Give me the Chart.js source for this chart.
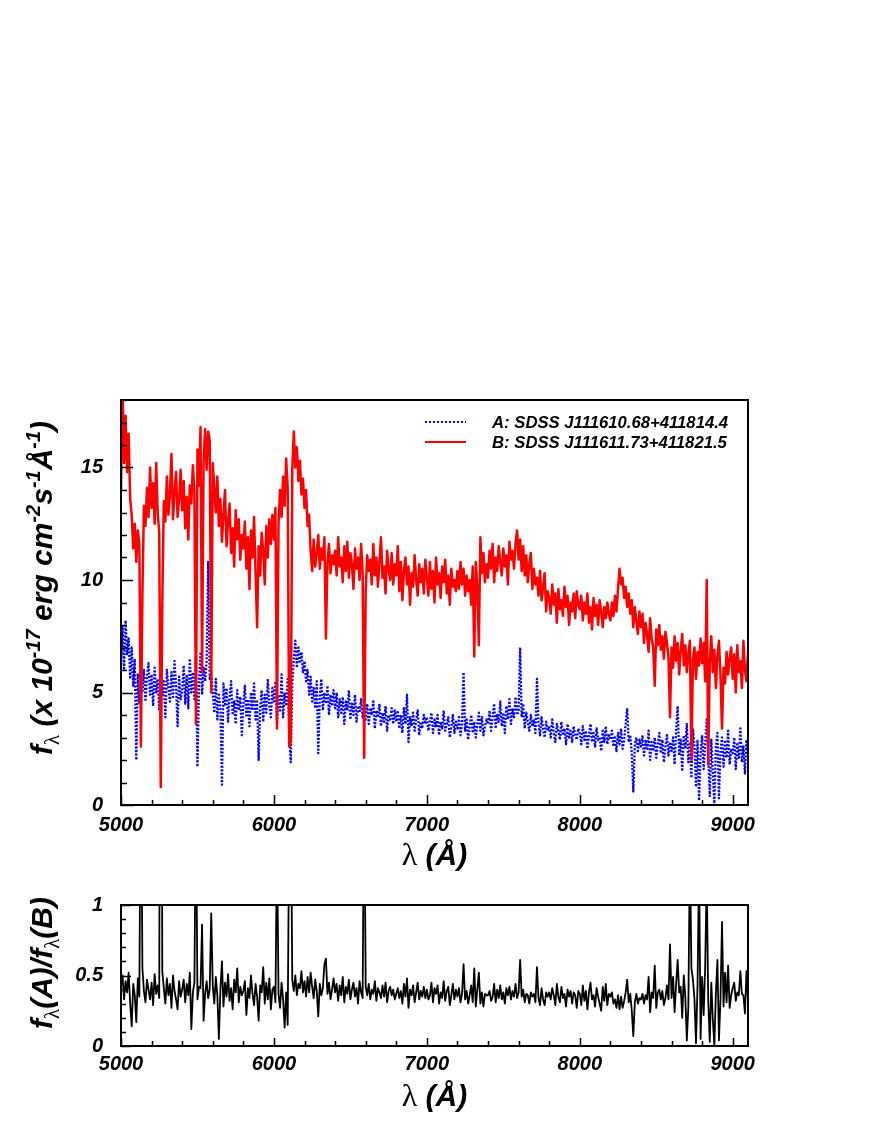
<!DOCTYPE html>
<html>
<head>
<meta charset="utf-8">
<script src="https://cdn.jsdelivr.net/npm/chart.js@4.4.1/dist/chart.umd.min.js"></script>
<style>
  html, body { margin: 0; padding: 0; background: #fff; }
  body { width: 872px; height: 1128px; position: relative; overflow: hidden; }
  canvas { position: absolute; left: 0; }
  #spec { top: 370px; }
  #ratio { top: 875px; }
</style>
</head>
<body>
<canvas id="spec" width="872" height="510"></canvas>
<canvas id="ratio" width="872" height="253"></canvas>
<script>
// spectra sampled every 10 A from 5000 A
const WAVE_START = 5000;
const WAVE_STEP = 10;

// A: SDSS J111610.68+411814.4 (x 1e-17 erg/cm2/s/A)
const fluxA = [
  6.3, 7.9, 6.0, 8.2, 6.7, 7.4, 5.6, 7.0, 5.3, 6.5, 2.0, 5.8, 4.5, 6.2, 5.0, 6.0, 4.6, 5.7, 6.3, 4.9,
  5.8, 4.4, 6.1, 5.0, 5.6, 4.2, 6.3, 4.9, 5.5, 3.9, 6.0, 5.2, 4.6, 5.9, 4.8, 6.4, 5.3, 3.5, 5.7, 4.7,
  5.1, 6.2, 4.5, 5.8, 4.3, 6.5, 5.0, 5.9, 4.7, 6.6, 1.7, 5.4, 6.8, 4.9, 6.1, 5.5, 6.4, 10.8, 5.6, 5.9,
  5.0, 4.1, 5.6, 3.8, 4.9, 4.3, 0.9, 5.4, 4.4, 5.2, 3.7, 4.8, 5.5, 4.0, 4.6, 3.6, 5.1, 4.2, 4.8, 3.1,
  4.5, 5.3, 3.9, 4.7, 3.5, 5.0, 4.2, 5.4, 3.8, 4.6, 2.0, 4.3, 5.1, 3.7, 4.9, 4.1, 5.6, 4.4, 3.9, 5.2,
  4.6, 5.5, 3.6, 4.9, 4.2, 5.8, 3.9, 5.0, 4.4, 5.6, 3.2, 1.9, 5.4, 6.5, 7.3, 6.1, 7.0, 6.3, 6.8, 5.9,
  6.4, 5.5, 6.0, 4.9, 5.7, 4.6, 5.2, 4.3, 5.5, 2.3, 4.8, 5.6, 4.2, 5.0, 4.5, 5.3, 4.0, 4.9, 4.4, 5.1,
  4.3, 5.0, 3.9, 4.7, 4.1, 4.8, 3.6, 4.6, 4.2, 5.1, 3.8, 4.5, 4.0, 4.9, 3.7, 4.4, 4.1, 4.7, 3.9, 4.3,
  3.8, 4.5, 3.6, 4.3, 4.0, 4.6, 3.4, 4.2, 3.9, 4.5, 3.5, 4.1, 3.7, 4.4, 3.3, 4.0, 3.8, 4.3, 3.6, 4.2,
  3.7, 4.2, 3.4, 4.0, 3.2, 4.3, 3.6, 4.9, 2.8, 3.9, 3.5, 4.1, 3.3, 3.8, 4.2, 3.1, 3.7, 3.4, 4.0, 3.6,
  3.9, 3.3, 3.7, 4.1, 3.2, 3.8, 3.5, 4.0, 3.1, 3.7, 3.4, 4.2, 3.3, 3.6, 3.9, 3.0, 3.5, 4.0, 3.2, 3.7,
  3.4, 3.9, 3.1, 3.6, 5.9, 3.3, 3.8, 2.9, 3.5, 4.0, 3.2, 3.7, 3.0, 3.6, 4.1, 3.3, 3.9, 3.1, 3.5, 3.8,
  3.6, 4.2, 3.3, 3.9, 4.5, 3.4, 4.0, 3.7, 4.6, 3.5, 4.1, 3.2, 4.4, 3.8, 4.7, 3.6, 4.3, 3.9, 4.8, 4.0,
  4.2, 7.0, 3.9, 4.5, 3.4, 4.1, 3.7, 3.3, 4.0, 3.5, 3.8, 3.2, 5.6, 3.6, 3.1, 3.9, 3.4, 3.0, 3.7, 3.3,
  3.5, 3.0, 3.8, 3.2, 2.8, 3.6, 3.3, 2.9, 3.7, 3.1, 3.4, 2.7, 3.6, 3.0, 3.3, 2.8, 3.5, 3.1, 2.9, 3.4,
  3.2, 2.7, 3.5, 2.9, 3.3, 2.5, 3.1, 3.6, 2.8, 3.2, 2.6, 3.4, 2.9, 3.0, 2.4, 3.3, 2.8, 3.5, 2.7, 3.1,
  2.9, 3.3, 2.6, 3.0, 2.4, 3.2, 2.7, 3.4, 2.5, 2.9, 3.6, 4.3, 2.8, 3.1, 2.3, 0.6, 2.7, 3.0, 2.4, 2.9,
  2.6, 3.1, 2.2, 2.9, 2.5, 3.3, 2.0, 2.8, 2.4, 3.0, 2.1, 2.7, 3.2, 2.3, 2.9, 1.9, 2.6, 3.1, 2.2, 2.8,
  2.4, 3.0, 1.8, 3.3, 4.4, 2.2, 2.9, 1.5, 3.1, 2.5, 3.6, 1.9, 2.8, 1.2, 3.4, 2.6, 0.8, 2.9, 0.2, 2.3,
  3.1, 1.6, 2.7, 3.8, 2.2, 0.4, 2.9, 1.4, 0.0, 2.6, 3.2, 0.3, 2.4, 3.0, 1.7, 2.8, 2.1, 3.3, 1.8, 2.5,
  2.3, 3.0, 1.6, 2.7, 2.1, 3.4, 1.9, 2.6, 1.4, 2.9, 2.2
];

// B: SDSS J111611.73+411821.5
const fluxB = [
  14.0, 18.6, 15.2, 17.3, 14.8, 16.5, 13.6, 12.9, 11.4, 12.5, 10.8, 12.2, 11.6, 2.6, 9.4, 13.3, 12.4, 14.1, 12.8, 15.0,
  13.2, 14.3, 12.5, 15.2, 13.0, 12.1, 0.8, 9.0, 13.5, 12.6, 14.6, 12.9, 13.8, 15.6, 12.7, 13.9, 14.8, 12.8, 13.6, 14.9,
  13.1, 14.4, 12.3, 13.7, 11.8, 14.2, 13.4, 15.1, 13.9, 3.6, 15.8, 14.2, 16.8, 5.9, 15.3, 16.7, 14.9, 16.6, 16.2, 5.0,
  15.2, 14.1, 13.0, 14.6, 12.4, 13.6, 11.7, 12.9, 14.0, 11.5, 12.6, 13.4, 11.2, 12.3, 10.6, 13.1, 11.8, 12.7, 10.9, 12.0,
  11.4, 12.6, 10.5, 11.9, 9.6, 12.2, 11.0, 12.8, 10.3, 7.9, 11.5, 10.2, 12.1, 11.3, 9.8, 12.4, 11.0, 12.7, 11.6, 12.9,
  11.8, 13.2, 3.4, 12.5, 14.0, 12.8, 14.6, 13.3, 15.4, 14.1, 2.6, 2.8, 14.9, 16.6, 15.0, 15.9, 14.4, 15.3, 13.8, 14.5,
  13.2, 14.0, 12.4, 12.9, 11.3, 10.4, 11.8, 10.6, 11.2, 12.0, 10.5, 11.4, 10.9, 11.9, 7.4, 10.8, 11.6, 10.3, 11.1, 10.7,
  11.3, 10.2, 11.9, 10.6, 11.0, 9.9, 11.5, 10.4, 11.7, 10.1, 11.2, 10.7, 9.6, 11.4, 10.5, 11.0, 10.0, 11.6, 10.3, 2.1,
  9.5, 11.1, 10.4, 10.9, 9.8, 11.6, 10.2, 11.0, 9.7, 10.8, 11.9, 10.1, 10.6, 9.4, 11.3, 10.5, 10.0, 11.2, 9.8, 10.7,
  10.2, 11.5, 9.5, 10.8, 9.1, 10.4, 11.0, 9.8, 10.6, 8.9, 10.3, 9.7, 11.1, 10.0, 9.3, 10.7, 9.9, 10.5, 9.4, 10.9,
  10.1, 9.3, 10.8, 9.6, 10.4, 9.0, 11.0, 9.8, 10.3, 9.2, 10.6, 9.9, 10.9, 9.4, 10.2, 8.9, 10.5, 9.7, 10.0, 9.5,
  10.4, 9.6, 10.8, 9.8, 10.5, 9.3, 10.2, 9.5, 10.0, 8.9, 10.6, 6.6, 10.8, 9.7, 7.1, 11.9, 10.3, 11.2, 9.9, 10.7,
  10.1, 11.3, 10.5, 11.6, 9.9, 11.0, 10.4, 11.5, 10.8, 10.2, 11.4, 10.6, 11.1, 9.8, 11.7, 10.9, 11.3, 10.5, 11.6, 12.2,
  10.9, 11.8, 10.4, 11.5, 10.2, 11.1, 9.9, 10.7, 11.2, 9.6, 10.5, 9.8, 10.1, 9.3, 10.4, 9.1, 9.7, 10.3, 8.6, 9.5,
  9.2, 8.5, 9.8, 8.9, 9.4, 8.1, 9.6, 8.7, 9.1, 8.4, 9.7, 8.8, 9.3, 8.0, 9.0, 8.6, 9.4, 8.3, 9.5, 8.9,
  8.7, 9.3, 8.2, 9.0, 8.5, 9.4, 8.1, 8.8, 7.8, 9.2, 8.4, 8.9, 8.0, 9.1, 8.6, 7.9, 8.8, 8.3, 9.0, 8.5,
  8.2, 9.0, 8.4, 9.3, 8.6, 9.6, 10.5, 9.8, 10.1, 9.2, 9.7, 8.8, 9.4, 8.5, 9.1, 7.9, 8.8, 8.2, 7.6, 8.6,
  7.9, 8.5, 7.2, 8.1, 7.6, 6.8, 8.3, 7.4, 7.0, 5.3, 7.8, 7.1, 8.0, 6.9, 7.5, 6.5, 7.7, 7.2, 6.6, 3.9,
  7.0, 6.1, 7.5, 6.4, 7.2, 5.8, 6.9, 7.6, 6.2, 7.1, 5.9, 6.7, 7.3, 2.0, 6.5, 7.0, 5.6, 6.8, 6.2, 7.4,
  6.3, 7.2, 5.5, 10.0, 1.8, 6.4, 7.5, 5.9, 6.9, 5.2, 6.6, 7.3, 5.8, 3.4, 6.1, 5.4, 6.8, 5.8, 6.5, 7.0,
  5.6, 6.7, 5.0, 7.1, 5.9, 6.4, 5.2, 7.3, 6.0, 5.5, 6.8
];

// f(A)/f(B)
const ratioAB = [
  0.42, 0.50, 0.33, 0.46, 0.38, 0.52, 0.30, 0.14, 0.44, 0.36, 0.17, 0.48, 0.35, 2.2, 0.55, 0.39, 0.31, 0.47, 0.40, 0.33,
  0.45, 0.29, 0.51, 0.37, 0.43, 0.34, 5.0, 0.53, 0.41, 0.30, 0.48, 0.36, 0.44, 0.27, 0.50, 0.39, 0.33, 0.26, 0.46, 0.35,
  0.40, 0.47, 0.31, 0.44, 0.36, 0.52, 0.12, 0.38, 0.45, 1.8, 0.33, 0.42, 0.41, 0.86, 0.18, 0.37, 0.46, 0.34, 0.40, 0.94,
  0.43, 0.30, 0.49, 0.36, 0.05, 0.40, 0.60, 0.28, 0.45, 0.35, 0.51, 0.32, 0.41, 0.26, 0.47, 0.38, 0.55, 0.31, 0.42, 0.36,
  0.39, 0.46, 0.22, 0.41, 0.34, 0.50, 0.37, 0.29, 0.44, 0.35, 0.18, 0.43, 0.38, 0.56, 0.30, 0.45, 0.33, 0.48, 0.26, 0.40,
  0.42, 0.31, 1.5, 0.37, 0.27, 0.45, 0.33, 0.13, 0.38, 0.15, 1.6, 1.9, 0.47, 0.39, 0.50, 0.36, 0.44, 0.41, 0.53, 0.38,
  0.46, 0.35, 0.49, 0.38, 0.52, 0.42, 0.34, 0.47, 0.39, 0.21, 0.44, 0.36, 0.41, 0.58, 0.62, 0.37, 0.45, 0.33, 0.40, 0.48,
  0.38, 0.44, 0.32, 0.43, 0.36, 0.49, 0.31, 0.42, 0.37, 0.47, 0.33, 0.40, 0.45, 0.35, 0.41, 0.30, 0.46, 0.38, 0.34, 2.0,
  0.42, 0.36, 0.44, 0.33, 0.40, 0.37, 0.46, 0.32, 0.41, 0.38, 0.34, 0.43, 0.35, 0.45, 0.31, 0.39, 0.42, 0.36, 0.40, 0.33,
  0.37, 0.41, 0.34, 0.39, 0.30, 0.44, 0.35, 0.48, 0.27, 0.40, 0.36, 0.43, 0.31, 0.38, 0.45, 0.33, 0.39, 0.35, 0.42, 0.34,
  0.40, 0.33, 0.36, 0.45, 0.31, 0.41, 0.37, 0.43, 0.30, 0.38, 0.34, 0.46, 0.32, 0.39, 0.42, 0.29, 0.36, 0.44, 0.33, 0.40,
  0.35, 0.41, 0.31, 0.37, 0.58, 0.33, 0.39, 0.30, 0.36, 0.43, 0.31, 0.55, 0.28, 0.40, 0.52, 0.30, 0.38, 0.28, 0.37, 0.36,
  0.36, 0.39, 0.32, 0.35, 0.44, 0.31, 0.40, 0.34, 0.43, 0.33, 0.38, 0.30, 0.41, 0.36, 0.42, 0.33, 0.39, 0.35, 0.44, 0.34,
  0.38, 0.61, 0.35, 0.40, 0.31, 0.37, 0.36, 0.30, 0.38, 0.35, 0.37, 0.31, 0.56, 0.34, 0.29, 0.41, 0.33, 0.29, 0.38, 0.35,
  0.38, 0.33, 0.41, 0.36, 0.29, 0.44, 0.35, 0.31, 0.42, 0.34, 0.37, 0.28, 0.40, 0.35, 0.39, 0.30, 0.38, 0.36, 0.27, 0.39,
  0.37, 0.29, 0.43, 0.32, 0.39, 0.26, 0.38, 0.45, 0.33, 0.36, 0.28, 0.41, 0.35, 0.30, 0.25, 0.42, 0.32, 0.44, 0.29, 0.37,
  0.35, 0.38, 0.30, 0.33, 0.27, 0.36, 0.26, 0.35, 0.27, 0.32, 0.38, 0.47, 0.31, 0.37, 0.25, 0.07, 0.31, 0.37, 0.30, 0.34,
  0.33, 0.37, 0.30, 0.36, 0.33, 0.49, 0.24, 0.38, 0.34, 0.57, 0.27, 0.38, 0.40, 0.33, 0.39, 0.29, 0.34, 0.43, 0.33, 0.72,
  0.34, 0.49, 0.24, 0.44, 0.61, 0.38, 0.42, 0.20, 0.50, 0.35, 0.04, 0.28, 1.4, 0.55, 0.47, 0.33, 0.02, 0.43, 1.3, 0.05,
  0.49, 0.22, 0.56, 1.2, 0.32, 0.03, 0.45, 0.19, 0.0, 0.38, 0.61, 0.04, 0.33, 0.88, 0.28, 0.52, 0.31, 0.57, 0.27, 0.36,
  0.41, 0.45, 0.32, 0.38, 0.36, 0.53, 0.37, 0.36, 0.23, 0.53, 0.32
];

const xTickLabels = [5000, 6000, 7000, 8000, 9000];
const fluxTickLabels = [0, 5, 10, 15];
const ratioTickLabels = [0, 0.5, 1];
const legendLabels = ["A: SDSS J111610.68+411814.4", "B: SDSS J111611.73+411821.5"];

const FONT = '"Liberation Sans", Arial, Helvetica, sans-serif';
const SERIF = '"Liberation Serif", "Times New Roman", serif';
const BI = (size) => `italic bold ${size}px ${FONT}`;
const LAM = (size) => `${size}px ${SERIF}`;

const toPoints = (arr) => arr.map((v, i) => ({ x: WAVE_START + i * WAVE_STEP, y: v }));

function drawRich(ctx, parts, x, y, align) {
  let total = 0;
  parts.forEach((p) => {
    ctx.font = p.font;
    p.w = ctx.measureText(p.t).width;
    total += p.w;
  });
  let cx = align === "center" ? x - total / 2 : x;
  parts.forEach((p) => {
    ctx.font = p.font;
    ctx.fillText(p.t, cx, y + (p.dy || 0));
    cx += p.w;
  });
}

const isStep = (v, step) => Math.abs(v / step - Math.round(v / step)) < 1e-6;

// ROOT-like frame with inward tick marks, plus axis titles and legend
const rootFrame = {
  id: "rootFrame",
  afterDatasetsDraw(chart, args, opts) {
    const { ctx, chartArea: a, scales } = chart;
    ctx.save();
    ctx.strokeStyle = "#000";
    ctx.lineWidth = 1.5;
    ctx.beginPath();
    scales.x.ticks.forEach((t) => {
      if (!isStep(t.value, opts.xMinor)) return;
      const len = isStep(t.value, opts.xMajor) ? opts.xMajorLen : opts.xMinorLen;
      const px = Math.round(scales.x.getPixelForValue(t.value)) + 0.5;
      ctx.moveTo(px, a.bottom);
      ctx.lineTo(px, a.bottom - len);
    });
    scales.y.ticks.forEach((t) => {
      const len = isStep(t.value, opts.yMajor) ? opts.yMajorLen : opts.yMinorLen;
      const py = Math.round(scales.y.getPixelForValue(t.value)) + 0.5;
      ctx.moveTo(a.left, py);
      ctx.lineTo(a.left + len, py);
    });
    ctx.stroke();
    ctx.lineWidth = 2;
    ctx.strokeRect(a.left, a.top, a.width, a.height);
    ctx.restore();
  },
  afterDraw(chart, args, opts) {
    const { ctx, chartArea: a } = chart;
    ctx.save();
    ctx.fillStyle = "#000";
    ctx.textBaseline = "alphabetic";
    drawRich(ctx, [
      { t: "λ", font: LAM(32) },
      { t: " (Å)", font: BI(30) }
    ], (a.left + a.right) / 2, opts.xTitleY, "center");
    ctx.translate(opts.yTitleX, opts.yTitleY);
    ctx.rotate(-Math.PI / 2);
    drawRich(ctx, opts.yTitle, 0, 0, "center");
    ctx.restore();

    if (opts.legend) {
      ctx.save();
      ctx.lineWidth = 2;
      ctx.strokeStyle = "#0000ff";
      ctx.setLineDash([2, 2]);
      ctx.beginPath();
      ctx.moveTo(425, 52); ctx.lineTo(466, 52);
      ctx.stroke();
      ctx.setLineDash([]);
      ctx.strokeStyle = "#ff0000";
      ctx.beginPath();
      ctx.moveTo(425, 72); ctx.lineTo(466, 72);
      ctx.stroke();
      ctx.fillStyle = "#000";
      ctx.font = BI(16.7);
      ctx.fillText(legendLabels[0], 492, 58);
      ctx.fillText(legendLabels[1], 492, 78);
      ctx.restore();
    }
  }
};

const sup = (t) => ({ t, font: BI(20), dy: -12 });
const sub = (t) => ({ t, font: LAM(21), dy: 7 });

function xScale(height, padding) {
  return {
    type: "linear",
    min: 5000,
    max: 9100,
    grid: { display: false, drawTicks: false },
    border: { display: false },
    ticks: {
      stepSize: 200,
      includeBounds: false,
      autoSkip: false,
      maxRotation: 0,
      padding: padding,
      color: "#000",
      font: { family: FONT, size: 20, style: "italic", weight: "bold" },
      callback: (v) => (xTickLabels.includes(v) ? String(v) : "")
    },
    afterFit: (s) => { s.height = height; }
  };
}

function yScale(max, step, labels) {
  return {
    min: 0,
    max: max,
    grid: { display: false, drawTicks: false },
    border: { display: false },
    ticks: {
      stepSize: step,
      autoSkip: false,
      padding: 18,
      color: "#000",
      font: { family: FONT, size: 20, style: "italic", weight: "bold" },
      callback: (v) => {
        const hit = labels.find((l) => Math.abs(l - v) < 1e-6);
        return hit === undefined ? "" : String(hit);
      }
    },
    afterFit: (s) => { s.width = 121; }
  };
}

const common = {
  responsive: false,
  animation: false,
  devicePixelRatio: 1,
  events: [],
  elements: { point: { radius: 0 }, line: { tension: 0, borderJoinStyle: "round" } }
};

new Chart(document.getElementById("spec"), {
  type: "line",
  data: {
    datasets: [
      {
        label: legendLabels[1],
        data: toPoints(fluxB),
        borderColor: "#ff0000",
        borderWidth: 2.5,
        order: 0
      },
      {
        label: legendLabels[0],
        data: toPoints(fluxA),
        borderColor: "#0000ff",
        borderWidth: 2.3,
        borderDash: [2, 1.6],
        order: 1
      }
    ]
  },
  options: {
    ...common,
    layout: { padding: { top: 30, right: 124, left: 0, bottom: 0 } },
    scales: {
      x: xScale(75, 8),
      y: yScale(18, 1, fluxTickLabels)
    },
    plugins: {
      legend: { display: false },
      tooltip: { enabled: false },
      rootFrame: {
        xMinor: 200, xMajor: 1000, xMajorLen: 10, xMinorLen: 5,
        yMajor: 5, yMajorLen: 12, yMinorLen: 6,
        xTitleY: 495,
        yTitleX: 52, yTitleY: 218,
        yTitle: [
          { t: "f", font: BI(30) }, sub("λ"),
          { t: " (x 10", font: BI(30) }, sup("-17"),
          { t: " erg cm", font: BI(30) }, sup("-2"),
          { t: "s", font: BI(30) }, sup("-1"),
          { t: "Å", font: BI(30) }, sup("-1"),
          { t: ")", font: BI(30) }
        ],
        legend: true
      }
    }
  },
  plugins: [rootFrame]
});

new Chart(document.getElementById("ratio"), {
  type: "line",
  data: {
    datasets: [
      {
        label: "f(A)/f(B)",
        data: toPoints(ratioAB),
        borderColor: "#000000",
        borderWidth: 1.8
      }
    ]
  },
  options: {
    ...common,
    layout: { padding: { top: 10, right: 124, left: 0, bottom: 0 } },
    scales: {
      x: xScale(82, 6),
      y: yScale(1, 0.1, ratioTickLabels)
    },
    plugins: {
      legend: { display: false },
      tooltip: { enabled: false },
      rootFrame: {
        xMinor: 200, xMajor: 1000, xMajorLen: 8, xMinorLen: 5,
        yMajor: 0.5, yMajorLen: 10, yMinorLen: 5,
        xTitleY: 231,
        yTitleX: 52, yTitleY: 88,
        yTitle: [
          { t: "f", font: BI(30) }, sub("λ"),
          { t: "(A)/", font: BI(30) },
          { t: "f", font: BI(30) }, sub("λ"),
          { t: "(B)", font: BI(30) }
        ],
        legend: false
      }
    }
  },
  plugins: [rootFrame]
});
</script>
</body>
</html>
